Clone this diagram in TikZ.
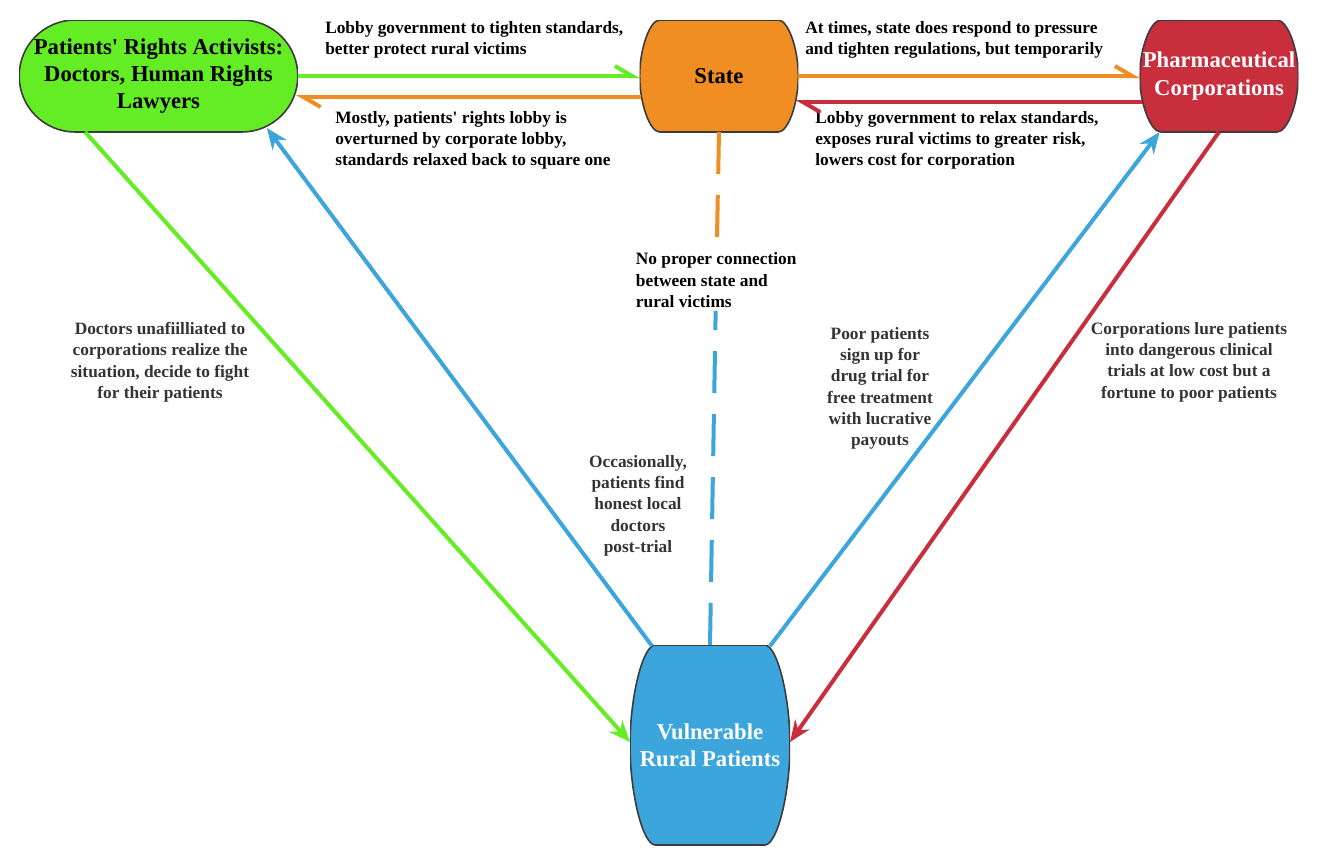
\documentclass[tikz,border=0pt]{standalone}
\usepackage{fontspec}
\setmainfont{Liberation Serif}
\usetikzlibrary{arrows.meta, positioning, calc}

\definecolor{actgreen}{RGB}{100,236,36}
\definecolor{stateorange}{RGB}{240,142,35}
\definecolor{pharmared}{RGB}{200,46,60}
\definecolor{ruralblue}{RGB}{59,165,220}
\definecolor{labelgray}{RGB}{51,51,51}
\definecolor{rimgray}{RGB}{60,60,60}

\newcommand{\cornerpull}{0.448}
\newcommand{\sidepull}{0.552}

\tikzset{
  corner pull/.store in=\cornerpull,
  side pull/.store in=\sidepull,
  % box with flat top/bottom and bulging sides, #1 fill, #2 bulge
  blob/.style 2 args={rectangle, inner sep=0pt, outer sep=0pt, align=center,
    font=\fontsize{17}{20.5}\selectfont\bfseries,
    path picture={
      \path (path picture bounding box.north west) coordinate (bnw)
            (path picture bounding box.north east) coordinate (bne)
            (path picture bounding box.south west) coordinate (bsw)
            (path picture bounding box.south east) coordinate (bse)
            (path picture bounding box.east) coordinate (be)
            (path picture bounding box.west) coordinate (bw);
      \draw[fill=#1, draw=rimgray, line width=1.2pt]
        ([xshift=#2]bnw) -- ([xshift=-#2]bne)
        .. controls ([xshift=-\cornerpull*#2]bne) and ($(be)!\sidepull!(bne)$) .. (be)
        .. controls ($(be)!\sidepull!(bse)$) and ([xshift=-\cornerpull*#2]bse) .. ([xshift=-#2]bse)
        -- ([xshift=#2]bsw)
        .. controls ([xshift=\cornerpull*#2]bsw) and ($(bw)!\sidepull!(bsw)$) .. (bw)
        .. controls ($(bw)!\sidepull!(bnw)$) and ([xshift=\cornerpull*#2]bnw) .. ([xshift=#2]bnw) -- cycle;
    }},
  barrel/.style={corner pull=0.5, side pull=0.48},
  note/.style={font=\fontsize{13}{16}\selectfont\bfseries, align=left, inner sep=0pt},
  grey note/.style={note, align=center, text=labelgray},
  harp/.style={line width=3pt, -{Straight Barb[harpoon, length=13pt, width=15pt]}},
  push/.style={line width=3pt, -{Stealth[length=16pt, width=13pt]}},
}

\begin{document}
\begin{tikzpicture}[x=0.75pt, y=-0.75pt]
\useasboundingbox (0,0) rectangle (1332,851);

% the four actors
\node[blob={actgreen}{42pt}, minimum width=209pt, minimum height=84pt] (act) at (158.5,76)
  {Patients\textquotesingle{} Rights Activists:\\Doctors, Human Rights\\Lawyers};
\node[blob={stateorange}{15pt}, barrel, minimum width=119pt, minimum height=84pt] (state) at (719,76) {State};
\node[blob={pharmared}{16pt}, barrel, text=white, minimum width=119pt, minimum height=84pt] (pharma) at (1219,76)
  {Pharmaceutical\\Corporations};
\node[blob={ruralblue}{19pt}, barrel, text=white, minimum width=120pt, minimum height=150pt] (rural) at (710,745)
  {Vulnerable\\Rural Patients};

% lobbying along the top
\node[note, anchor=north west] (tighten) at (325,21) {Lobby government to tighten standards,\\better protect rural victims};
\node[note, anchor=north west] (mostly) at (335,111) {Mostly, patients\textquotesingle{} rights lobby is\\overturned by corporate lobby,\\standards relaxed back to square one};
\node[note, anchor=north west] (attimes) at (805,21) {At times, state does respond to pressure\\and tighten regulations, but temporarily};
\node[note, anchor=north west] (relax) at (815,111) {Lobby government to relax standards,\\exposes rural victims to greater risk,\\lowers cost for corporation};

\draw[harp, actgreen] (act.east) -- (state.west);
\draw[harp, stateorange] ($(state.west)+(1,21)$) -- ($(act.east)+(-2,21)$);
\draw[harp, stateorange] (state.east) -- (pharma.west);
\draw[harp, pharmared] ($(pharma.west)+(2,26)$) -- ($(state.east)+(-3,26)$);

% state -- patients, no real link
\node[note, fill=white, inner sep=2pt, anchor=north west] (noconn) at (633,250) {No proper connection\\between state and\\rural victims};
\draw[stateorange, line width=3pt, dash pattern=on 31.5pt off 15.75pt] (state.south) -- (noconn);
\draw[ruralblue, line width=3pt, dash pattern=on 31.5pt off 15.75pt] (rural.north) -- (noconn);

% diagonals
\node[grey note, anchor=north] (doctors) at (160,322) {Doctors unafiilliated to\\corporations realize the\\situation, decide to fight\\for their patients};
\node[grey note, anchor=north] (occas) at (638,455) {Occasionally,\\patients find\\honest local\\doctors\\post-trial};
\node[grey note, anchor=north] (poor) at (880,327) {Poor patients\\sign up for\\drug trial for\\free treatment\\with lucrative\\payouts};
\node[grey note, anchor=north] (lure) at (1189,322) {Corporations lure patients\\into dangerous clinical\\trials at low cost but a\\fortune to poor patients};

\draw[push, actgreen] ($(act.south west)+(66,0)$) -- ($(rural.west)+(0,-3)$);
\draw[push, ruralblue] ($(rural.north west)+(22,1)$) -- ($(act.south east)+(-31,-4)$);
\draw[push, ruralblue] ($(rural.north east)+(-20,1)$) -- ($(pharma.south west)+(20,0)$);
\draw[push, pharmared] (pharma.south) -- ($(rural.east)+(0,-3)$);
\end{tikzpicture}
\end{document}
